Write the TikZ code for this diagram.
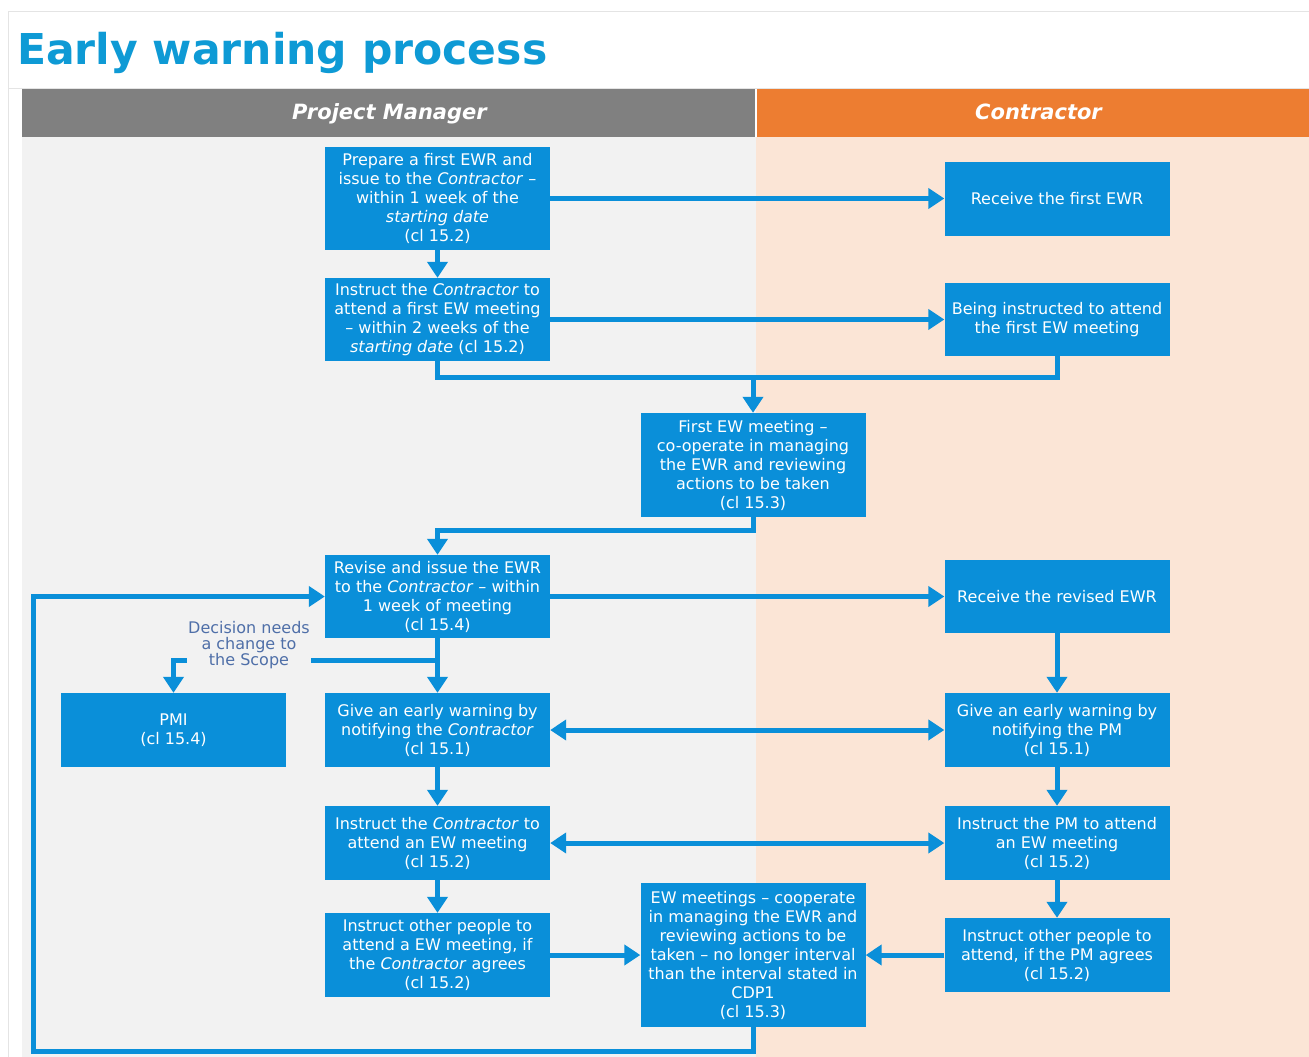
\documentclass[tikz,border=0pt]{standalone}
\usepackage{fontspec}
\setmainfont{DejaVu Sans}
\usetikzlibrary{arrows.meta}
\definecolor{ewblue}{HTML}{0A8FD9}
\definecolor{titleblue}{HTML}{0E9AD5}
\definecolor{hdrgray}{HTML}{808080}
\definecolor{hdrorange}{HTML}{ED7D31}
\definecolor{lanegray}{HTML}{F2F2F2}
\definecolor{lanepeach}{HTML}{FBE5D6}
\definecolor{framegray}{HTML}{E4E4E4}
\definecolor{notecolor}{HTML}{4F6FA8}
\begin{document}
\begin{tikzpicture}[x=1pt,y=-1pt,
  box/.style={fill=ewblue, text=white, minimum width=225pt, minimum height=#1,
    inner sep=0pt, align=center, font=\fontsize{16}{19}\selectfont},
  box/.default=74pt,
  wire/.style={draw=ewblue, line width=5pt},
  conn/.style={wire, -{Triangle[width=20pt,length=16pt]}},
  biconn/.style={wire, {Triangle[width=20pt,length=16pt]}-{Triangle[width=20pt,length=16pt]}},
  hdr/.style={text=white, anchor=base, inner sep=0pt,
    font=\fontsize{21}{24}\bfseries\itshape\selectfont},
  note/.style={text=notecolor, fill=lanegray, inner sep=1pt, align=center,
    font=\fontsize{16}{16}\selectfont}]
\useasboundingbox (0,0) rectangle (1309,1057);
\fill[white] (0,0) rectangle (1309,1057);

% frame and title
\draw[framegray, line width=1pt] (8,1057) -- (8,12) -- (1309,12);
\draw[framegray, line width=1pt] (8,88) -- (1309,88);
\node[anchor=base west, inner sep=0pt, text=titleblue,
  font=\fontsize{42.5}{48}\bfseries\selectfont] (title) at (17,64) {Early warning process};

% swimlanes
\fill[hdrgray] (22,89) rectangle (755,137);
\fill[hdrorange] (757,89) rectangle (1309,137);
\fill[lanegray] (22,137) rectangle (756,1057);
\fill[lanepeach] (756,137) rectangle (1309,1057);
\node[hdr] (pmhdr) at (389.5,119) {Project Manager};
\node[hdr] (conhdr) at (1038.5,119) {Contractor};

% process steps
\node[box=103pt] (A) at (437.5,198.5) {Prepare a first EWR and\\issue to the \textit{Contractor} –\\within 1 week of the\\\textit{starting date}\\(cl 15.2)};
\node[box] (B) at (1057,199) {Receive the first EWR};
\node[box=83pt] (C) at (437.5,319.5) {Instruct the \textit{Contractor} to\\attend a first EW meeting\\– within 2 weeks of the\\\textit{starting date} (cl 15.2)};
\node[box=73pt] (D) at (1057,319.5) {Being instructed to attend\\the first EW meeting};
\node[box=104pt] (E) at (753,465) {First EW meeting –\\co-operate in managing\\the EWR and reviewing\\actions to be taken\\(cl 15.3)};
\node[box=83pt] (F) at (437.5,596.5) {Revise and issue the EWR\\to the \textit{Contractor} – within\\1 week of meeting\\(cl 15.4)};
\node[box=73pt] (G) at (1057,596.5) {Receive the revised EWR};
\node[box] (H) at (173.5,730) {PMI\\(cl 15.4)};
\node[box] (I) at (437.5,730) {Give an early warning by\\notifying the \textit{Contractor}\\(cl 15.1)};
\node[box] (J) at (1057,730) {Give an early warning by\\notifying the PM\\(cl 15.1)};
\node[box] (K) at (437.5,843) {Instruct the \textit{Contractor} to\\attend an EW meeting\\(cl 15.2)};
\node[box] (L) at (1057,843) {Instruct the PM to attend\\an EW meeting\\(cl 15.2)};
\node[box=84pt] (M) at (437.5,955) {Instruct other people to\\attend a EW meeting, if\\the \textit{Contractor} agrees\\(cl 15.2)};
\node[box=144pt] (N) at (753,955) {EW meetings – cooperate\\in managing the EWR and\\reviewing actions to be\\taken – no longer interval\\than the interval stated in\\CDP1\\(cl 15.3)};
\node[box] (O) at (1057,955) {Instruct other people to\\attend, if the PM agrees\\(cl 15.2)};

% junction points
\coordinate (j1) at (753,377);
\coordinate (j2) at (437.5,530);
\coordinate (j3) at (437.5,660);
\coordinate (j4) at (33,1051);

% connectors
\draw[conn] (A.east) -- (B.west |- A.east);
\draw[conn] (A.south) -- (C.north);
\draw[conn] (C.east) -- (D.west |- C.east);
\draw[wire] (C.south) |- (j1) -| (D.south);
\draw[conn] (j1) -- (E.north);
\draw[conn] (E.south) |- (j2) -- (F.north);
\draw[conn] (F.east) -- (G.west |- F.east);
\draw[conn] (G.south) -- (J.north);
\draw[conn] (F.south) -- (I.north);
\draw[conn] (j3) -| (H.north);
\node[note] (scope) at (249,645) {Decision needs\\a change to\\the Scope};
\draw[biconn] (I.east) -- (J.west |- I.east);
\draw[conn] (I.south) -- (K.north);
\draw[conn] (J.south) -- (L.north);
\draw[biconn] (K.east) -- (L.west |- K.east);
\draw[conn] (K.south) -- (M.north);
\draw[conn] (L.south) -- (O.north);
\draw[conn] (M.east) -- (N.west |- M.east);
\draw[conn] (O.west) -- (N.east |- O.west);
\draw[conn] (N.south) |- (j4) |- (F.west);
\end{tikzpicture}
\end{document}
